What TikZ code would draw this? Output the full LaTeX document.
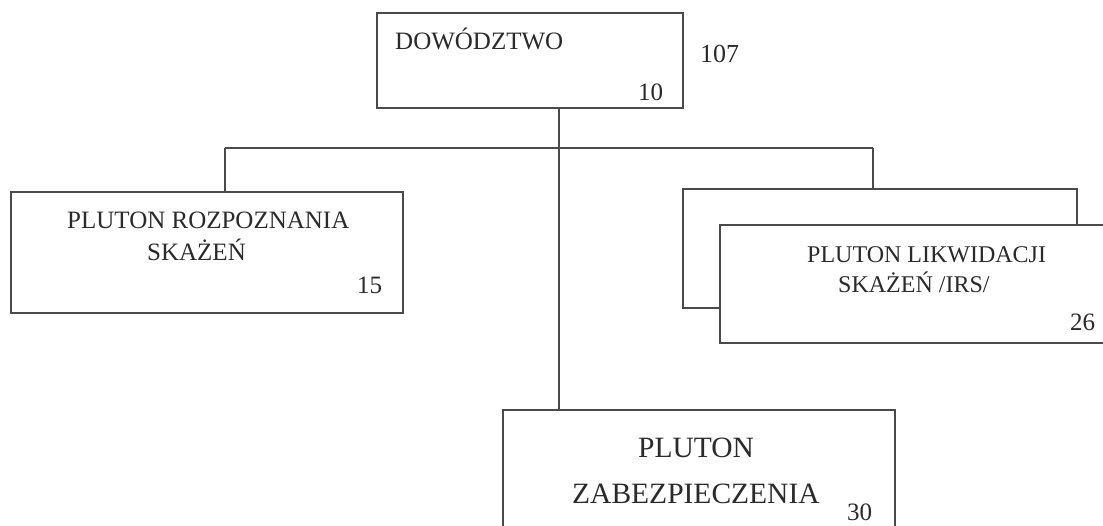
\documentclass[tikz,border=0pt]{standalone}
\usepackage{fontspec}
\setmainfont{Liberation Serif}
\begin{document}
\begin{tikzpicture}[x=1pt,y=-1pt,
  box/.style={draw=linegray, line width=1.3pt, inner sep=0pt, fill=white},
  lbl/.style={anchor=base west, inner sep=0pt, text=textgray, font=\fontsize{25}{25}\selectfont},
  big/.style={lbl, font=\fontsize{29.5}{30}\selectfont},
  conn/.style={draw=linegray, line width=1.3pt}]
\definecolor{linegray}{HTML}{4A4A4A}
\definecolor{textgray}{HTML}{2A2A2A}
\useasboundingbox (0,0) rectangle (1103,525);
\clip (0,0) rectangle (1103,525);
% boxes
\node[box, minimum width=306pt, minimum height=95pt] (top) at (530,60.5) {};
\node[box, minimum width=392pt, minimum height=121pt] (left) at (207,252.5) {};
\node[box, minimum width=394pt, minimum height=119pt] (back) at (880,248.5) {};
\node[box, minimum width=395pt, minimum height=118pt] (front) at (917.5,284) {};
\node[box, minimum width=392pt, minimum height=150pt] (bottom) at (699,485) {};
% connectors
\coordinate (jc) at (559,148);
\coordinate (jl) at (225,148);
\coordinate (jr) at (873,148);
\draw[conn] (top.south -| jc) -- (bottom.north -| jc);
\draw[conn] (jl) -- (jr);
\draw[conn] (jl) -- (left.north -| jl);
\draw[conn] (jr) -- (back.north -| jr);
% texts
\node[lbl] (t1) at (395,49) {DOWÓDZTWO};
\node[lbl, font=\fontsize{26}{26}\selectfont] (t2) at (700,62) {107};
\node[lbl] (t3) at (638,100) {10};
\node[lbl] (t4) at (67,228) {PLUTON ROZPOZNANIA};
\node[lbl] (t5) at (147,260) {SKAŻEŃ};
\node[lbl] (t6) at (357,293) {15};
\node[lbl, font=\fontsize{24}{24}\selectfont] (t7) at (807,262) {PLUTON LIKWIDACJI};
\node[lbl, font=\fontsize{24}{24}\selectfont] (t8) at (838,292) {SKAŻEŃ /IRS/};
\node[lbl] (t9) at (1070,330) {26};
\node[big] (t10) at (638,457) {PLUTON};
\node[big] (t11) at (572,503) {ZABEZPIECZENIA};
\node[lbl, font=\fontsize{25}{25}\selectfont] (t12) at (847,520) {30};
\end{tikzpicture}
\end{document}
